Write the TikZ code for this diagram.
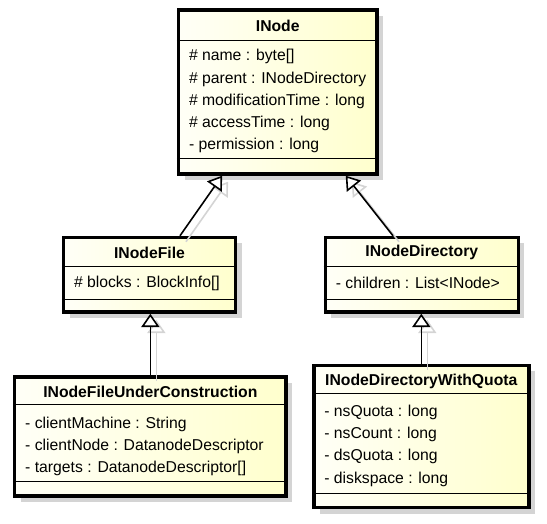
\documentclass[tikz,border=0pt]{standalone}
\usepackage{fontspec}
\setmainfont{Liberation Sans}
\usetikzlibrary{arrows.meta,calc,fit,shadows}
\definecolor{classleft}{RGB}{255,255,247}
\definecolor{classright}{RGB}{255,255,205}
\definecolor{classshadow}{RGB}{212,212,212}
\tikzset{
  uml_class/.style={rectangle, draw=black, line width=2.6pt, inner sep=0pt,
    left color=classleft, right color=classright,
    drop shadow={shadow xshift=4.5pt, shadow yshift=-4.5pt,
                 fill=classshadow, opacity=1}},
  uml_name/.style={inner sep=0pt,
    font=\fontsize{11.8}{14}\selectfont\bfseries},
  uml_attr/.style={anchor=west, align=left, inner sep=0pt,
    font=\fontsize{11.8}{16.7}\selectfont},
  uml_sep/.style={draw=black, line width=0.8pt},
  uml_tip/.tip={Triangle[width=13.5pt,length=10pt,fill=white]},
  uml_inherit/.style={-uml_tip, line width=1.2pt, draw=black},
  uml_inherit_shadow/.style={-uml_tip, line width=1.2pt, draw=classshadow,
    transform canvas={shift={(4.5pt,-4.5pt)}}},
}

\begin{document}
\begin{tikzpicture}[x=0.75pt, y=-0.75pt]
  \useasboundingbox (0,0) rectangle (547,524);

  % INode
  \node (inode) [uml_class, fit={(178.5,10) (377,174)}] {};
  \node (inode_name) [uml_name] at ($(inode.north)+(0,18)$) {INode};
  \node (inode_attr) [uml_attr] at ($(inode.north west)+(12,93)$)
    {\# name : byte[]\\
     \# parent : INodeDirectory\\
     \# modificationTime : long\\
     \# accessTime : long\\
     - permission : long};
  \draw[uml_sep] ($(inode.north west)+(0,32)$) -- ($(inode.north east)+(0,32)$);
  \draw[uml_sep] ($(inode.north west)+(0,150.7)$) -- ($(inode.north east)+(0,150.7)$);

  % INodeFile
  \node (inodefile) [uml_class, fit={(63.5,237.5) (235.5,312)}] {};
  \node (inodefile_name) [uml_name] at ($(inodefile.north)+(0,17)$) {INodeFile};
  \node (inodefile_attr) [uml_attr] at ($(inodefile.north west)+(12,47.5)$)
    {\# blocks : BlockInfo[]};
  \draw[uml_sep] ($(inodefile.north west)+(0,30.8)$) -- ($(inodefile.north east)+(0,30.8)$);
  \draw[uml_sep] ($(inodefile.north west)+(0,63.5)$) -- ($(inodefile.north east)+(0,63.5)$);

  % INodeDirectory
  \node (inodedir) [uml_class, fit={(325.3,237.5) (518.3,312)}] {};
  \node (inodedir_name) [uml_name] at ($(inodedir.north)+(0,17)$) {INodeDirectory};
  \node (inodedir_attr) [uml_attr] at ($(inodedir.north west)+(12,47.5)$)
    {- children : List<INode>};
  \draw[uml_sep] ($(inodedir.north west)+(0,30.8)$) -- ($(inodedir.north east)+(0,30.8)$);
  \draw[uml_sep] ($(inodedir.north west)+(0,63.5)$) -- ($(inodedir.north east)+(0,63.5)$);

  % INodeFileUnderConstruction
  \node (inodeuc) [uml_class, fit={(14.7,377) (286,495.8)}] {};
  \node (inodeuc_name) [uml_name] at ($(inodeuc.north)+(0,16.5)$) {INodeFileUnderConstruction};
  \node (inodeuc_attr) [uml_attr] at ($(inodeuc.north west)+(12,71.3)$)
    {- clientMachine : String\\
     - clientNode : DatanodeDescriptor\\
     - targets : DatanodeDescriptor[]};
  \draw[uml_sep] ($(inodeuc.north west)+(0,29.7)$) -- ($(inodeuc.north east)+(0,29.7)$);
  \draw[uml_sep] ($(inodeuc.north west)+(0,106.3)$) -- ($(inodeuc.north east)+(0,106.3)$);

  % INodeDirectoryWithQuota
  \node (quota) [uml_class, fit={(313.8,365.3) (528.8,507.5)}] {};
  \node (quota_name) [uml_name] at ($(quota.north)+(0,17.5)$) {INodeDirectoryWithQuota};
  \node (quota_attr) [uml_attr] at ($(quota.north west)+(12,82.2)$)
    {- nsQuota : long\\
     - nsCount : long\\
     - dsQuota : long\\
     - diskspace : long};
  \draw[uml_sep] ($(quota.north west)+(0,29.7)$) -- ($(quota.north east)+(0,29.7)$);
  \draw[uml_sep] ($(quota.north west)+(0,129.7)$) -- ($(quota.north east)+(0,129.7)$);

  % generalisations (shadow first)
  \draw[uml_inherit_shadow] ($(inodefile.north)+(30.5,0)$) -- ($(inode.south)+(-55.7,0)$);
  \draw[uml_inherit_shadow] ($(inodedir.north)+(-28.8,0)$) -- ($(inode.south)+(68,0)$);
  \draw[uml_inherit_shadow] (inodeuc.north) -- (inodeuc.north |- inodefile.south);
  \draw[uml_inherit_shadow] (quota.north) -- (quota.north |- inodedir.south);
  \draw[uml_inherit] ($(inodefile.north)+(30.5,0)$) -- ($(inode.south)+(-55.7,0)$);
  \draw[uml_inherit] ($(inodedir.north)+(-28.8,0)$) -- ($(inode.south)+(68,0)$);
  \draw[uml_inherit] (inodeuc.north) -- (inodeuc.north |- inodefile.south);
  \draw[uml_inherit] (quota.north) -- (quota.north |- inodedir.south);
\end{tikzpicture}
\end{document}
